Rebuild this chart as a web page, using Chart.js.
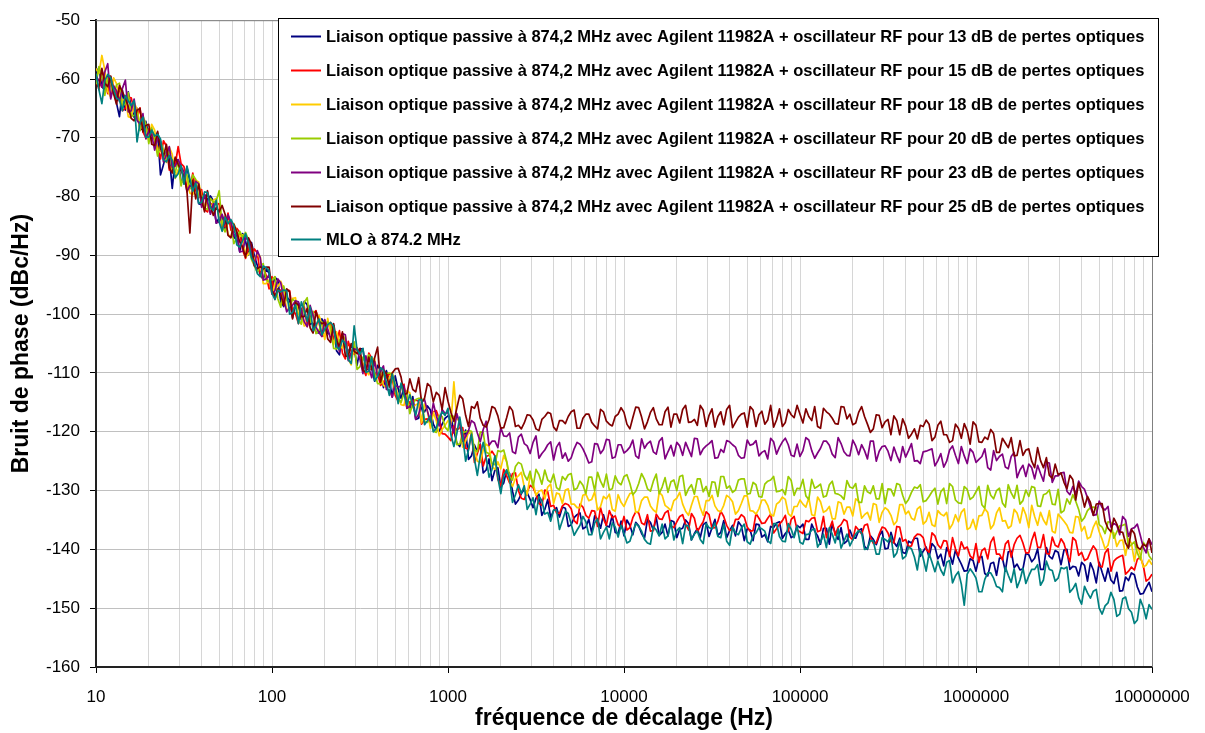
<!DOCTYPE html>
<html>
<head>
<meta charset="utf-8">
<script src="https://cdn.jsdelivr.net/npm/chart.js@4.4.0/dist/chart.umd.min.js"></script>
<style>
  html, body { margin: 0; padding: 0; background: #fff; }
  #wrap { width: 1205px; height: 733px; }
</style>
</head>
<body>
<div id="wrap"><canvas id="myChart"></canvas></div>
<script>
// offset frequencies (Hz), 30 points per decade
const freqs = [
  10, 10.8, 11.66, 12.59, 13.59, 14.68, 15.85, 17.11, 18.48, 19.95, 21.54, 23.26, 25.12, 27.12, 29.29, 31.62, 34.15, 36.87, 39.81, 42.99, 46.42, 50.12, 54.12, 58.43, 63.1, 68.13, 73.56, 79.43, 85.77, 92.61,
  100, 108, 116.6, 125.9, 135.9, 146.8, 158.5, 171.1, 184.8, 199.5, 215.4, 232.6, 251.2, 271.2, 292.9, 316.2, 341.5, 368.7, 398.1, 429.9, 464.2, 501.2, 541.2, 584.3, 631, 681.3, 735.6, 794.3, 857.7, 926.1,
  1000, 1080, 1166, 1259, 1359, 1468, 1585, 1711, 1848, 1995, 2154, 2326, 2512, 2712, 2929, 3162, 3415, 3687, 3981, 4299, 4642, 5012, 5412, 5843, 6310, 6813, 7356, 7943, 8577, 9261,
  10000, 10800, 11660, 12590, 13590, 14680, 15850, 17110, 18480, 19950, 21540, 23260, 25120, 27120, 29290, 31620, 34150, 36870, 39810, 42990, 46420, 50120, 54120, 58430, 63100, 68130, 73560, 79430, 85770, 92610,
  100000, 108000, 116600, 125900, 135900, 146800, 158500, 171100, 184800, 199500, 215400, 232600, 251200, 271200, 292900, 316200, 341500, 368700, 398100, 429900, 464200, 501200, 541200, 584300, 631000, 681300, 735600, 794300, 857700, 926100,
  1000000, 1080000, 1166000, 1259000, 1359000, 1468000, 1585000, 1711000, 1848000, 1995000, 2154000, 2326000, 2512000, 2712000, 2929000, 3162000, 3415000, 3687000, 3981000, 4299000, 4642000, 5012000, 5412000, 5843000, 6310000, 6813000, 7356000, 7943000, 8577000, 9261000,
  10000000
];
// in-between readings
const freqsMid = [
  10.39, 11.22, 12.12, 13.08, 14.13, 15.25, 16.47, 17.78, 19.2, 20.73, 22.39, 24.17, 26.1, 28.18, 30.43, 32.86, 35.48, 38.31, 41.37, 44.67, 48.23, 52.08, 56.23, 60.72, 65.57, 70.79, 76.44, 82.54, 89.13, 96.24,
  103.9, 112.2, 121.2, 130.8, 141.3, 152.5, 164.7, 177.8, 192, 207.3, 223.9, 241.7, 261, 281.8, 304.3, 328.6, 354.8, 383.1, 413.7, 446.7, 482.3, 520.8, 562.3, 607.2, 655.7, 707.9, 764.4, 825.4, 891.3, 962.4,
  1039, 1122, 1212, 1308, 1413, 1525, 1647, 1778, 1920, 2073, 2239, 2417, 2610, 2818, 3043, 3286, 3548, 3831, 4137, 4467, 4823, 5208, 5623, 6072, 6557, 7079, 7644, 8254, 8913, 9624,
  10390, 11220, 12120, 13080, 14130, 15250, 16470, 17780, 19200, 20730, 22390, 24170, 26100, 28180, 30430, 32860, 35480, 38310, 41370, 44670, 48230, 52080, 56230, 60720, 65570, 70790, 76440, 82540, 89130, 96240,
  103900, 112200, 121200, 130800, 141300, 152500, 164700, 177800, 192000, 207300, 223900, 241700, 261000, 281800, 304300, 328600, 354800, 383100, 413700, 446700, 482300, 520800, 562300, 607200, 655700, 707900, 764400, 825400, 891300, 962400,
  1039000, 1122000, 1212000, 1308000, 1413000, 1525000, 1647000, 1778000, 1920000, 2073000, 2239000, 2417000, 2610000, 2818000, 3043000, 3286000, 3548000, 3831000, 4137000, 4467000, 4823000, 5208000, 5623000, 6072000, 6557000, 7079000, 7644000, 8254000, 8913000, 9624000
];

// phase noise (dBc/Hz) at freqs
const liaison13 = [
  -58.9, -61.3, -59.5, -62.0, -66.4, -65.3, -64.7, -65.0, -68.5, -69.5, -69.4, -76.3, -72.3, -78.6, -73.8, -77.5, -77.5, -78.0, -81.4, -80.6, -80.7, -83.6, -85.4, -84.6, -86.5, -86.3, -89.9, -90.1, -93.3, -92.4,
  -95.7, -94.3, -98.7, -97.6, -98.0, -101.0, -98.4, -101.5, -103.2, -101.6, -103.3, -106.2, -103.4, -106.4, -105.9, -105.9, -109.4, -109.3, -108.7, -112.5, -111.2, -110.5, -114.3, -114.7, -114.0, -117.7, -116.6, -116.3, -119.7, -118.7,
  -117.3, -119.8, -122.5, -119.7, -124.1, -123.4, -127.0, -124.6, -126.5, -129.4, -126.5, -130.1, -131.6, -129.8, -131.5, -131.3, -134.2, -131.5, -133.4, -134.5, -133.0, -135.8, -134.1, -136.5, -134.9, -134.3, -136.4, -136.0, -134.2, -137.3,
  -137.7, -135.9, -135.4, -137.3, -134.9, -136.7, -137.6, -135.7, -135.1, -138.0, -136.4, -135.6, -137.3, -138.0, -135.4, -136.3, -137.6, -135.1, -136.8, -137.7, -136.0, -136.5, -138.5, -135.8, -137.5, -136.1, -135.5, -138.1, -136.7, -137.7,
  -136.3, -138.3, -135.7, -137.7, -136.4, -139.1, -137.2, -136.3, -138.6, -138.0, -136.8, -139.5, -137.7, -139.2, -136.9, -139.8, -138.8, -138.1, -140.7, -138.9, -138.1, -140.3, -141.3, -139.6, -140.8, -139.7, -142.5, -141.5, -143.7, -141.6,
  -143.7, -141.2, -144.5, -142.2, -141.5, -143.7, -140.3, -142.5, -143.3, -140.9, -141.5, -143.4, -139.7, -141.6, -140.5, -140.1, -143.4, -143.0, -142.2, -145.4, -143.5, -142.2, -145.4, -145.2, -143.9, -147.0, -145.3, -144.3, -147.6, -146.5,
  -147.2
];
const liaison13Mid = [
  -58.1, -61.9, -60.8, -64.1, -61.9, -62.2, -66.5, -68.6, -67.2, -70.2, -69.2, -74.6, -73.3, -73.6, -77.4, -75.0, -78.8, -81.2, -79.6, -79.9, -84.5, -83.3, -83.3, -87.1, -89.4, -87.6, -87.8, -91.7, -94.1, -93.0,
  -93.7, -97.9, -97.1, -100.6, -98.2, -97.8, -101.7, -103.1, -100.8, -103.3, -101.9, -106.9, -105.3, -105.3, -108.7, -105.9, -109.4, -111.4, -109.5, -109.6, -114.1, -112.7, -112.4, -116.0, -117.9, -115.8, -115.6, -118.7, -119.9, -117.7,
  -117.6, -121.9, -121.0, -124.7, -122.2, -122.1, -126.5, -128.3, -126.1, -128.7, -127.1, -132.3, -130.5, -130.4, -132.9, -130.6, -133.2, -134.6, -132.9, -132.8, -136.1, -134.6, -133.8, -136.2, -137.2, -134.9, -134.1, -136.2, -137.1, -135.2,
  -135.0, -137.5, -136.0, -138.1, -135.4, -134.6, -137.1, -137.7, -135.3, -136.6, -135.0, -138.4, -136.5, -135.8, -137.8, -134.9, -137.1, -138.0, -135.9, -135.3, -138.5, -136.7, -135.7, -137.9, -138.7, -136.3, -135.3, -137.3, -138.0, -135.9,
  -135.7, -138.3, -136.9, -139.1, -136.4, -135.7, -138.3, -139.0, -136.7, -138.1, -136.5, -140.0, -138.3, -137.7, -139.9, -137.1, -139.5, -140.5, -138.6, -138.1, -141.2, -139.6, -139.0, -141.6, -142.8, -140.8, -140.1, -142.5, -143.6, -141.9,
  -141.4, -144.1, -142.4, -144.4, -141.5, -140.4, -143.1, -143.5, -140.7, -142.1, -139.9, -143.4, -141.2, -140.2, -142.6, -140.0, -142.9, -144.5, -142.7, -142.3, -145.7, -143.9, -143.2, -145.8, -147.1, -144.7, -144.0, -146.4, -147.5, -145.6
];
const liaison15 = [
  -60.1, -58.6, -62.5, -61.2, -61.4, -65.0, -63.2, -66.6, -69.0, -68.5, -70.4, -73.6, -71.4, -74.5, -71.5, -74.9, -78.6, -78.9, -78.8, -82.6, -81.5, -81.2, -85.0, -85.7, -85.4, -89.1, -88.6, -88.9, -93.2, -93.4,
  -93.6, -95.9, -98.3, -96.0, -99.9, -99.2, -102.1, -99.9, -101.4, -103.7, -101.4, -104.7, -106.6, -104.6, -106.8, -106.8, -110.4, -107.5, -110.0, -111.6, -110.1, -113.8, -112.5, -116.0, -114.7, -114.8, -117.9, -118.4, -116.4, -120.3,
  -120.9, -119.0, -119.3, -122.8, -120.1, -123.7, -125.8, -124.0, -124.1, -129.2, -127.5, -127.1, -130.0, -131.5, -129.1, -130.6, -132.5, -130.2, -132.5, -133.9, -132.2, -133.1, -135.6, -132.8, -134.7, -133.5, -132.9, -135.9, -134.6, -135.8,
  -134.4, -136.3, -133.6, -135.5, -134.1, -136.8, -134.8, -133.8, -136.0, -135.3, -134.1, -136.7, -134.7, -136.1, -133.6, -136.4, -135.2, -134.4, -136.8, -134.9, -134.1, -136.2, -136.8, -134.7, -135.5, -134.0, -136.5, -135.1, -136.9, -134.4,
  -137.0, -135.1, -134.7, -137.0, -134.4, -136.6, -137.6, -135.8, -135.2, -138.4, -136.7, -135.9, -137.9, -138.9, -136.2, -137.2, -138.9, -136.2, -138.3, -139.4, -137.4, -138.0, -140.5, -137.7, -139.8, -138.6, -138.0, -141.1, -139.9, -141.1,
  -139.0, -140.2, -141.6, -137.9, -140.8, -139.1, -141.3, -138.1, -138.9, -140.6, -137.1, -139.7, -140.7, -137.9, -139.6, -139.0, -142.1, -138.5, -140.5, -141.6, -139.4, -142.8, -140.6, -143.7, -141.5, -141.0, -143.7, -143.5, -141.3, -145.4,
  -144.2
];
const liaison15Mid = [
  -61.8, -60.0, -59.6, -62.9, -65.4, -63.1, -65.3, -64.9, -70.0, -69.0, -71.6, -70.5, -75.5, -74.7, -74.4, -78.3, -76.0, -80.2, -82.2, -81.1, -81.3, -85.4, -82.8, -86.1, -86.1, -90.5, -90.1, -89.6, -92.0, -95.7,
  -97.5, -95.9, -95.9, -99.4, -101.6, -98.7, -100.5, -99.4, -103.7, -102.1, -104.3, -102.8, -107.6, -106.3, -105.7, -109.2, -106.6, -110.4, -112.1, -110.8, -110.9, -114.8, -111.9, -114.9, -114.6, -118.7, -117.8, -116.6, -117.8, -120.4,
  -121.5, -119.7, -119.3, -122.9, -125.2, -122.2, -124.2, -123.3, -128.1, -126.4, -128.7, -127.0, -131.3, -130.2, -129.5, -132.2, -129.9, -132.7, -133.8, -132.6, -132.4, -135.1, -132.3, -134.2, -133.4, -136.1, -134.8, -133.4, -134.3, -136.3,
  -136.7, -134.6, -133.8, -135.8, -136.9, -134.0, -134.9, -133.4, -136.3, -134.4, -135.7, -133.9, -137.0, -135.3, -134.1, -136.3, -133.5, -135.9, -136.6, -134.9, -134.5, -136.9, -133.9, -135.6, -134.7, -137.2, -135.7, -134.2, -134.9, -136.7,
  -137.3, -135.3, -134.6, -136.8, -138.0, -135.2, -136.2, -134.9, -137.9, -136.1, -137.4, -135.7, -139.0, -137.4, -136.4, -138.7, -136.1, -138.6, -139.5, -137.9, -137.5, -140.0, -137.2, -139.2, -138.5, -141.2, -139.9, -138.7, -139.6, -141.6,
  -142.2, -139.8, -138.8, -140.8, -141.8, -138.5, -139.2, -137.6, -140.6, -138.5, -139.6, -137.5, -140.8, -139.3, -138.2, -140.8, -138.0, -141.0, -141.9, -140.4, -140.1, -143.0, -139.9, -142.0, -141.2, -144.2, -143.0, -141.7, -142.7, -145.0
];
const liaison18 = [
  -58.2, -56.0, -62.1, -59.8, -63.2, -63.3, -66.6, -65.1, -67.3, -70.4, -68.7, -72.3, -74.2, -72.8, -75.4, -75.8, -79.4, -77.2, -80.0, -81.7, -80.6, -84.2, -83.4, -86.9, -86.0, -86.5, -89.8, -90.9, -90.2, -94.8,
  -96.6, -95.3, -95.8, -99.0, -97.2, -100.1, -101.8, -100.3, -100.2, -104.3, -103.1, -103.0, -105.8, -107.6, -105.3, -107.2, -109.6, -107.4, -110.3, -112.1, -110.7, -112.0, -115.4, -113.0, -115.9, -115.2, -115.3, -119.4, -118.1, -119.6,
  -118.1, -111.5, -118.2, -121.6, -120.4, -125.0, -123.1, -122.5, -126.4, -126.3, -125.1, -129.3, -127.5, -129.4, -127.4, -130.8, -129.9, -129.4, -132.2, -130.6, -129.9, -132.3, -132.9, -130.8, -131.7, -130.2, -132.7, -131.4, -133.2, -130.7,
  -132.7, -130.5, -133.7, -131.7, -131.1, -133.3, -130.3, -132.5, -133.4, -131.3, -132.3, -134.2, -131.0, -132.9, -131.7, -130.8, -133.4, -132.5, -131.2, -134.0, -132.2, -130.9, -133.5, -133.1, -131.6, -134.1, -132.3, -131.1, -133.9, -132.7,
  -131.6, -132.8, -134.1, -131.1, -133.7, -132.7, -134.8, -132.1, -132.8, -134.3, -131.8, -134.1, -135.0, -132.4, -133.7, -133.3, -135.8, -132.4, -134.0, -134.7, -133.1, -135.7, -133.7, -136.1, -134.0, -133.7, -135.7, -135.3, -133.1, -136.3,
  -136.6, -134.2, -133.7, -135.8, -132.9, -135.1, -136.0, -133.8, -132.9, -136.3, -134.4, -133.7, -135.8, -136.9, -134.0, -135.2, -137.1, -134.4, -136.9, -138.2, -136.2, -137.0, -139.9, -137.1, -139.5, -138.4, -138.2, -142.0, -140.9, -142.7,
  -142.6
];
const liaison18Mid = [
  -59.1, -58.5, -63.1, -60.8, -63.7, -66.4, -64.0, -68.0, -68.1, -67.7, -72.5, -72.5, -71.6, -76.9, -75.0, -77.4, -79.7, -77.5, -79.9, -82.7, -80.3, -84.5, -86.4, -84.6, -86.8, -90.3, -88.7, -89.8, -94.8, -94.2,
  -94.8, -94.4, -99.3, -97.3, -100.0, -102.0, -99.1, -102.5, -101.7, -100.7, -105.2, -104.8, -103.7, -108.6, -106.3, -108.3, -110.3, -107.7, -109.8, -112.5, -109.9, -113.9, -115.5, -113.4, -115.4, -118.5, -116.5, -116.7, -120.7, -118.9,
  -118.6, -117.8, -122.6, -120.1, -122.9, -125.2, -122.1, -125.9, -125.1, -124.0, -128.4, -127.9, -126.9, -130.7, -128.7, -130.1, -131.4, -128.9, -130.4, -132.2, -129.7, -132.3, -132.9, -130.6, -131.5, -133.3, -131.0, -130.6, -133.5, -132.0,
  -131.5, -130.4, -133.5, -131.1, -132.6, -133.7, -130.8, -132.9, -131.7, -130.3, -133.5, -132.5, -131.0, -134.2, -131.7, -132.6, -133.6, -130.8, -131.9, -133.4, -130.9, -133.4, -134.0, -131.6, -132.5, -134.3, -131.9, -131.5, -134.4, -132.7,
  -132.3, -131.2, -134.3, -131.9, -133.4, -134.8, -131.9, -134.0, -132.8, -131.4, -134.7, -133.7, -132.2, -135.4, -132.9, -134.2, -135.2, -132.4, -133.5, -135.0, -132.7, -135.2, -135.8, -133.4, -134.3, -136.5, -134.1, -133.7, -136.6, -134.9,
  -134.3, -133.1, -136.5, -133.8, -135.2, -136.4, -133.2, -135.5, -134.1, -132.5, -135.9, -135.0, -133.4, -137.2, -134.6, -135.9, -137.2, -134.5, -136.1, -137.9, -135.2, -138.3, -139.3, -137.2, -138.5, -141.0, -139.0, -139.3, -143.0, -141.8
];
const liaison20 = [
  -60.9, -59.6, -59.8, -62.6, -60.7, -64.2, -66.3, -65.5, -66.3, -71.0, -70.3, -70.7, -73.5, -75.6, -74.0, -76.1, -78.7, -77.1, -80.2, -82.2, -81.0, -79.0, -86.0, -84.1, -87.1, -86.9, -87.4, -91.8, -91.8, -94.2,
  -94.2, -97.4, -95.2, -98.5, -97.8, -101.7, -97.2, -99.5, -102.8, -102.8, -102.0, -105.9, -104.3, -106.8, -104.7, -108.9, -108.3, -108.2, -111.8, -110.3, -110.0, -113.3, -115.0, -113.4, -115.2, -114.3, -118.2, -117.5, -120.1, -117.4,
  -119.8, -117.4, -122.1, -120.0, -119.9, -123.4, -120.1, -123.7, -125.6, -123.4, -125.0, -128.2, -125.2, -127.3, -126.7, -126.4, -128.9, -128.2, -127.2, -129.9, -128.2, -127.1, -129.6, -129.1, -127.7, -130.0, -128.4, -127.2, -129.7, -128.6,
  -127.6, -128.8, -130.1, -127.1, -129.7, -128.4, -130.5, -127.8, -128.5, -130.0, -127.4, -129.7, -130.6, -128.0, -129.3, -128.5, -131.0, -127.6, -129.2, -129.9, -128.0, -130.6, -128.6, -131.0, -128.9, -128.2, -130.2, -129.8, -127.6, -130.8,
  -129.7, -130.9, -128.1, -129.3, -131.1, -129.0, -130.5, -130.9, -128.3, -129.6, -132.0, -129.2, -130.5, -131.4, -128.8, -129.7, -130.9, -129.0, -132.2, -130.3, -129.6, -131.9, -131.0, -129.6, -130.2, -132.2, -129.3, -132.1, -129.3, -131.5,
  -130.2, -132.4, -129.1, -131.4, -129.6, -132.8, -130.4, -129.1, -131.7, -131.0, -129.5, -132.7, -130.5, -132.3, -129.8, -133.4, -132.3, -131.8, -135.2, -133.4, -132.8, -135.8, -137.3, -135.4, -137.0, -135.9, -139.6, -138.7, -141.7, -139.5,
  -141.8
];
const liaison20Mid = [
  -57.9, -62.8, -61.1, -61.0, -64.6, -62.3, -66.2, -68.8, -67.6, -68.3, -73.1, -72.0, -71.9, -75.9, -78.2, -76.3, -76.3, -79.9, -81.9, -80.3, -80.7, -85.0, -84.3, -88.0, -85.9, -86.1, -90.7, -92.9, -91.4, -94.5,
  -93.6, -98.8, -97.4, -97.5, -100.9, -98.0, -101.4, -103.3, -101.3, -101.3, -105.8, -104.3, -104.0, -107.5, -109.4, -107.3, -106.9, -110.1, -111.8, -110.1, -110.3, -114.3, -113.4, -116.9, -114.5, -114.3, -118.4, -119.9, -117.2, -119.2,
  -117.2, -122.2, -120.1, -119.8, -123.1, -120.0, -123.5, -125.4, -123.2, -123.1, -127.6, -125.9, -125.5, -128.2, -129.4, -127.3, -126.5, -128.6, -129.5, -127.6, -127.3, -129.9, -128.4, -130.5, -127.7, -126.9, -129.4, -129.9, -127.5, -129.0,
  -127.3, -130.7, -128.8, -128.1, -130.1, -127.2, -129.4, -130.3, -128.2, -127.6, -130.8, -129.0, -128.0, -130.2, -131.0, -128.6, -127.6, -129.6, -130.3, -128.2, -128.0, -130.5, -129.0, -131.1, -128.4, -127.6, -130.1, -130.7, -128.3, -129.6,
  -128.1, -131.5, -129.6, -128.9, -130.9, -128.4, -130.6, -131.5, -129.4, -128.8, -132.0, -130.2, -129.2, -131.4, -132.2, -129.8, -128.8, -130.8, -131.5, -129.4, -129.0, -131.7, -130.2, -132.3, -129.6, -128.8, -131.6, -132.2, -129.8, -131.1,
  -129.3, -133.0, -130.8, -130.0, -132.1, -129.0, -131.3, -132.3, -129.9, -129.3, -132.6, -130.7, -129.9, -132.4, -133.8, -131.4, -130.7, -133.2, -134.6, -132.9, -132.9, -136.2, -135.3, -138.1, -136.0, -135.7, -139.2, -140.6, -138.8, -141.1
];
const liaison23 = [
  -59.5, -61.4, -57.4, -61.2, -63.8, -60.2, -65.4, -67.0, -65.9, -68.8, -72.1, -70.6, -72.9, -75.0, -73.7, -75.8, -78.1, -77.4, -81.8, -80.9, -81.2, -84.3, -84.6, -84.3, -86.1, -89.3, -87.4, -91.7, -90.4, -94.0,
  -96.6, -94.0, -97.4, -98.9, -97.7, -99.2, -102.1, -100.2, -103.1, -100.9, -104.2, -104.2, -103.3, -107.9, -105.9, -107.7, -107.1, -110.8, -110.5, -108.8, -112.9, -112.1, -112.2, -116.0, -114.7, -117.0, -114.5, -118.3, -117.2, -116.2,
  -116.7, -120.2, -118.6, -120.8, -118.1, -120.2, -119.6, -122.3, -121.6, -119.3, -120.8, -123.4, -120.9, -122.0, -123.7, -120.7, -123.7, -122.2, -124.8, -121.8, -123.6, -124.4, -121.8, -122.9, -125.3, -122.0, -123.7, -121.3, -124.5, -122.2,
  -123.6, -122.6, -124.1, -121.2, -122.0, -123.4, -121.6, -124.6, -122.3, -121.8, -124.0, -123.0, -121.1, -123.9, -122.4, -121.5, -124.4, -123.5, -121.7, -122.6, -124.5, -121.4, -122.1, -124.1, -123.2, -121.1, -123.8, -121.7, -122.2, -124.2,
  -124.2, -121.0, -123.2, -123.6, -121.6, -122.3, -124.4, -122.0, -124.0, -121.4, -123.9, -123.2, -121.6, -125.0, -122.5, -123.3, -122.6, -125.2, -124.3, -122.0, -124.9, -123.4, -123.1, -125.8, -123.7, -125.0, -122.4, -125.4, -124.1, -122.9,
  -125.2, -124.2, -126.1, -123.2, -124.2, -126.0, -124.2, -127.8, -125.7, -125.5, -128.0, -127.1, -125.2, -128.6, -127.5, -126.9, -130.7, -130.6, -129.3, -131.2, -134.2, -131.8, -133.3, -136.2, -135.9, -134.4, -137.8, -136.3, -137.6, -140.6,
  -139.2
];
const liaison23Mid = [
  -60.3, -58.8, -63.4, -62.0, -61.6, -65.6, -63.4, -67.7, -70.2, -69.5, -70.0, -74.1, -71.5, -74.8, -74.9, -79.2, -78.5, -77.8, -79.8, -83.0, -84.5, -83.0, -83.1, -86.8, -89.4, -87.0, -89.5, -89.2, -94.2, -93.3,
  -96.0, -94.7, -99.6, -98.5, -97.9, -101.3, -98.5, -102.2, -103.8, -102.5, -102.6, -106.4, -103.5, -106.5, -106.1, -110.1, -109.1, -108.0, -109.7, -112.8, -114.1, -112.4, -112.2, -115.7, -117.9, -115.0, -116.5, -115.1, -119.0, -116.9,
  -118.8, -116.9, -121.6, -119.8, -118.5, -121.7, -118.2, -121.6, -122.7, -120.7, -120.2, -123.7, -120.4, -122.4, -121.8, -124.5, -123.1, -121.7, -122.6, -124.5, -125.0, -122.9, -122.1, -124.0, -125.1, -122.1, -123.0, -121.4, -124.3, -122.2,
  -123.2, -121.4, -124.5, -122.8, -121.6, -123.8, -121.0, -123.4, -124.1, -122.4, -121.8, -124.2, -121.2, -122.9, -122.0, -124.5, -123.0, -121.5, -122.2, -124.0, -124.4, -122.3, -121.5, -123.5, -124.6, -121.7, -122.6, -121.1, -124.0, -122.1,
  -123.2, -121.4, -124.5, -122.8, -121.6, -123.8, -121.0, -123.4, -124.1, -122.4, -122.2, -124.6, -121.6, -123.3, -122.4, -124.9, -124.0, -122.5, -123.2, -125.0, -125.4, -123.3, -122.9, -124.9, -126.0, -123.1, -124.0, -122.5, -125.4, -123.5,
  -124.7, -122.9, -126.5, -124.9, -123.8, -126.3, -123.5, -126.5, -127.6, -126.1, -125.7, -128.4, -125.3, -127.5, -127.0, -130.1, -129.3, -128.4, -129.8, -132.8, -134.1, -132.9, -132.7, -135.6, -137.5, -135.0, -136.5, -135.7, -139.6, -138.2
];
const liaison25 = [
  -61.1, -58.2, -61.3, -62.5, -61.1, -63.3, -66.7, -65.3, -69.0, -67.7, -71.3, -71.8, -71.1, -76.0, -74.5, -76.6, -86.2, -80.4, -80.5, -79.0, -83.2, -82.6, -83.0, -87.0, -86.0, -88.6, -87.0, -91.8, -91.9, -92.0,
  -96.0, -95.7, -98.5, -96.2, -98.0, -100.4, -99.0, -103.2, -101.2, -101.4, -104.8, -104.5, -103.0, -107.2, -106.3, -105.8, -109.8, -109.4, -105.6, -109.5, -112.4, -109.3, -110.7, -113.5, -112.8, -110.8, -114.3, -112.3, -113.3, -116.2,
  -114.8, -118.2, -113.8, -117.2, -115.7, -114.9, -118.9, -117.9, -116.0, -119.4, -117.6, -116.4, -118.9, -118.5, -117.2, -119.5, -117.9, -116.7, -119.2, -118.1, -118.6, -116.6, -119.4, -117.7, -117.0, -119.0, -116.2, -118.2, -119.0, -117.0,
  -116.7, -119.5, -115.8, -117.5, -118.3, -115.9, -118.8, -116.6, -119.2, -117.0, -116.2, -118.4, -117.9, -115.5, -119.1, -116.1, -117.4, -118.8, -115.5, -118.4, -117.0, -119.2, -116.3, -117.1, -118.7, -115.5, -118.0, -119.1, -116.2, -117.6,
  -117.0, -116.1, -118.1, -119.1, -116.0, -117.0, -118.6, -115.7, -117.8, -118.8, -116.7, -117.4, -120.1, -117.1, -119.3, -117.9, -117.3, -120.5, -119.0, -120.4, -121.2, -119.1, -118.7, -120.9, -118.2, -120.5, -121.5, -119.4, -118.6, -122.1,
  -118.9, -121.8, -121.3, -120.3, -123.5, -121.9, -121.0, -124.0, -124.0, -122.9, -126.1, -124.9, -124.4, -127.9, -127.3, -128.6, -127.4, -131.6, -130.6, -131.0, -134.2, -132.2, -135.2, -137.0, -135.7, -137.1, -139.8, -137.3, -140.0, -139.5,
  -140.6
];
const liaison25Mid = [
  -61.2, -60.7, -59.5, -64.3, -62.2, -64.7, -67.1, -65.0, -67.9, -71.1, -68.9, -73.2, -75.1, -73.3, -75.6, -79.0, -77.2, -77.9, -82.6, -81.5, -81.8, -81.5, -86.6, -84.7, -87.7, -90.3, -88.1, -92.3, -92.3, -92.0,
  -96.9, -96.7, -95.7, -100.8, -98.5, -100.4, -102.3, -99.5, -101.6, -104.2, -101.6, -105.5, -107.1, -105.0, -106.7, -109.6, -107.3, -107.4, -111.6, -110.1, -110.0, -109.2, -113.6, -111.0, -113.2, -115.0, -111.8, -114.9, -113.8, -112.5,
  -116.7, -116.0, -114.4, -119.1, -116.0, -117.7, -119.2, -115.7, -117.3, -119.3, -115.7, -119.1, -119.5, -117.1, -118.0, -119.8, -117.4, -116.9, -119.8, -118.1, -117.4, -116.3, -119.4, -117.0, -118.4, -119.5, -116.6, -118.7, -117.4, -115.9,
  -118.7, -117.6, -115.9, -119.5, -116.7, -117.8, -118.8, -115.8, -117.0, -118.5, -115.5, -118.3, -118.9, -116.3, -117.2, -119.2, -116.6, -116.2, -119.3, -117.5, -116.8, -115.7, -119.1, -116.5, -118.0, -119.2, -116.1, -118.4, -117.1, -115.5,
  -118.5, -117.4, -115.7, -119.4, -116.6, -117.7, -118.7, -115.8, -117.0, -118.5, -115.7, -118.7, -119.5, -117.2, -118.3, -120.5, -118.1, -117.8, -121.1, -119.5, -118.9, -118.0, -121.5, -118.9, -120.5, -121.8, -118.7, -121.1, -119.8, -118.3,
  -121.7, -120.9, -119.6, -123.5, -121.1, -122.7, -124.1, -121.5, -123.1, -125.0, -122.7, -126.1, -127.4, -125.5, -127.0, -129.7, -128.1, -128.7, -132.8, -132.0, -132.3, -132.2, -136.4, -134.7, -137.0, -138.9, -136.6, -139.6, -139.1, -138.2
];
const mlo = [
  -59.1, -64.2, -59.2, -61.8, -63.6, -62.8, -64.5, -70.7, -66.5, -69.9, -69.7, -70.2, -74.1, -73.8, -76.1, -77.9, -77.0, -77.7, -81.0, -79.3, -82.4, -84.3, -83.5, -83.9, -88.2, -87.5, -87.9, -91.2, -93.6, -92.1,
  -96.4, -95.9, -95.9, -100.0, -98.4, -97.9, -101.2, -102.8, -100.8, -102.5, -101.4, -105.5, -104.4, -107.7, -102.0, -106.8, -109.9, -107.2, -110.6, -109.5, -113.8, -112.1, -111.7, -115.4, -115.5, -114.6, -118.8, -117.3, -119.4, -116.6,
  -116.0, -122.5, -117.5, -125.0, -120.4, -127.4, -121.8, -127.7, -124.1, -130.5, -126.5, -132.0, -129.0, -129.2, -132.3, -134.1, -131.7, -133.7, -133.3, -136.6, -133.5, -135.7, -136.7, -134.4, -137.5, -135.5, -138.2, -136.2, -135.5, -137.9,
  -137.3, -138.6, -135.6, -136.9, -138.9, -136.1, -137.7, -138.2, -135.3, -136.8, -139.0, -136.0, -137.4, -138.3, -135.6, -136.5, -137.8, -135.7, -139.3, -137.2, -136.4, -138.7, -137.7, -136.3, -136.9, -139.0, -135.6, -138.6, -135.6, -138.0,
  -138.8, -137.5, -136.7, -139.6, -137.4, -136.3, -138.9, -139.8, -137.4, -138.4, -136.8, -140.0, -138.5, -140.8, -138.0, -138.7, -141.3, -138.5, -141.2, -139.9, -143.5, -141.5, -140.7, -143.8, -143.5, -142.2, -145.7, -143.8, -149.5, -143.3,
  -144.9, -147.2, -144.0, -144.9, -146.5, -143.0, -145.6, -146.5, -143.2, -144.5, -143.4, -146.1, -142.0, -143.6, -144.9, -143.3, -147.3, -145.8, -149.3, -147.4, -147.1, -150.0, -149.6, -147.3, -151.4, -148.4, -150.1, -152.6, -148.5, -151.8,
  -150.2
];
const mloMid = [
  -61.8, -60.3, -59.8, -63.2, -65.4, -63.7, -63.7, -67.4, -69.9, -68.7, -69.4, -73.7, -73.0, -76.8, -74.7, -74.8, -79.1, -81.1, -79.2, -81.8, -80.6, -85.9, -84.6, -84.9, -88.6, -86.3, -90.4, -93.1, -91.8, -92.6,
  -97.5, -96.2, -96.0, -99.7, -101.6, -99.3, -98.8, -101.9, -103.5, -101.8, -102.0, -106.0, -105.0, -108.4, -106.0, -105.8, -109.7, -111.3, -109.1, -111.6, -110.2, -115.2, -113.7, -113.7, -117.2, -114.5, -118.1, -120.0, -117.7, -117.2,
  -120.5, -120.3, -120.7, -123.1, -124.6, -124.0, -124.3, -126.4, -127.8, -127.4, -128.0, -130.7, -130.5, -133.2, -131.2, -131.0, -134.0, -135.2, -133.3, -135.1, -133.9, -137.6, -135.9, -135.3, -137.5, -134.8, -137.1, -138.2, -136.2, -135.9,
  -138.9, -137.1, -136.1, -138.3, -139.1, -136.7, -135.7, -137.7, -138.4, -136.3, -135.9, -138.4, -136.9, -139.0, -136.3, -135.5, -138.0, -138.6, -136.2, -137.5, -135.7, -139.1, -137.2, -136.5, -138.5, -135.6, -137.8, -138.7, -136.6, -136.0,
  -139.1, -137.4, -136.5, -138.8, -139.7, -137.4, -136.5, -138.6, -139.4, -137.4, -137.2, -139.9, -138.6, -140.8, -138.3, -137.7, -140.6, -141.6, -139.6, -141.3, -139.9, -143.7, -142.2, -142.0, -144.4, -141.9, -144.5, -145.9, -144.2, -144.0,
  -147.2, -145.1, -144.0, -146.3, -147.2, -144.4, -143.3, -145.2, -145.8, -143.4, -142.6, -145.2, -143.4, -145.4, -143.1, -143.0, -146.7, -148.2, -146.3, -148.3, -146.8, -151.0, -149.1, -148.5, -151.0, -148.1, -150.7, -152.0, -149.8, -149.4
];

const seriesLabels = [
  "Liaison optique passive à 874,2 MHz avec Agilent 11982A + oscillateur RF pour 13 dB de pertes optiques",
  "Liaison optique passive à 874,2 MHz avec Agilent 11982A + oscillateur RF pour 15 dB de pertes optiques",
  "Liaison optique passive à 874,2 MHz avec Agilent 11982A + oscillateur RF pour 18 dB de pertes optiques",
  "Liaison optique passive à 874,2 MHz avec Agilent 11982A + oscillateur RF pour 20 dB de pertes optiques",
  "Liaison optique passive à 874,2 MHz avec Agilent 11982A + oscillateur RF pour 23 dB de pertes optiques",
  "Liaison optique passive à 874,2 MHz avec Agilent 11982A + oscillateur RF pour 25 dB de pertes optiques",
  "MLO à 874.2 MHz"
];
const seriesValues = [liaison13, liaison15, liaison18, liaison20, liaison23, liaison25, mlo];
const seriesMidValues = [liaison13Mid, liaison15Mid, liaison18Mid, liaison20Mid, liaison23Mid, liaison25Mid, mloMid];
const seriesColors = ["#000080", "#FF0000", "#FFCC00", "#99CC00", "#800080", "#800000", "#008080"];

const xDecades = [10, 100, 1000, 10000, 100000, 1000000, 10000000];
const yMin = -160, yMax = -50, yStep = 10;

const FONT = 'Arial, "Liberation Sans", sans-serif';
Chart.defaults.font.family = FONT;
Chart.defaults.color = "#000";

function buildPoints(vals, midVals) {
  const pts = freqs.map((f, j) => ({ x: f, y: vals[j] }))
    .concat(freqsMid.map((f, j) => ({ x: f, y: midVals[j] })));
  return pts.sort((a, b) => a.x - b.x);
}

// frame on top / right and the boxed legend inside the plot
const frameAndLegend = {
  id: "frameAndLegend",
  afterDraw(chart) {
    const ctx = chart.ctx;
    const a = chart.chartArea;
    ctx.save();
    ctx.strokeStyle = "#808080";
    ctx.lineWidth = 1;
    ctx.beginPath();
    ctx.moveTo(a.left, a.top + 0.5);
    ctx.lineTo(a.right + 0.5, a.top + 0.5);
    ctx.lineTo(a.right + 0.5, a.bottom);
    ctx.stroke();

    const bx = 278, by = 18, bw = 880, bh = 238;
    ctx.fillStyle = "#fff";
    ctx.fillRect(bx, by, bw, bh);
    ctx.strokeStyle = "#000";
    ctx.strokeRect(bx + 0.5, by + 0.5, bw, bh);
    ctx.font = "bold 16.5px " + FONT;
    ctx.textBaseline = "middle";
    ctx.textAlign = "left";
    chart.data.datasets.forEach((ds, i) => {
      const y = Math.round(36 + i * 33.9) + 0.5;
      ctx.strokeStyle = ds.borderColor;
      ctx.lineWidth = 2;
      ctx.beginPath();
      ctx.moveTo(291, y);
      ctx.lineTo(321, y);
      ctx.stroke();
      ctx.fillStyle = "#000";
      ctx.fillText(ds.label, 326, y + 1);
    });
    ctx.restore();
  }
};

const ctx = document.getElementById("myChart");

new Chart(ctx, {
  type: "line",
  data: {
    datasets: seriesValues.map((vals, i) => ({
      label: seriesLabels[i],
      data: buildPoints(vals, seriesMidValues[i]),
      borderColor: seriesColors[i],
      backgroundColor: seriesColors[i],
      borderWidth: 1.7,
      borderJoinStyle: "round",
      pointRadius: 0,
      tension: 0,
      fill: false,
      order: seriesValues.length - 1 - i
    }))
  },
  options: {
    responsive: true,
    maintainAspectRatio: false,
    devicePixelRatio: 1,
    animation: false,
    layout: { padding: { top: 18, right: 53, bottom: 0, left: 0 } },
    plugins: {
      legend: { display: false },
      tooltip: { enabled: false }
    },
    scales: {
      x: {
        type: "logarithmic",
        min: 10,
        max: 10000000,
        afterBuildTicks: (axis) => {
          const t = [];
          xDecades.forEach((d, i) => {
            t.push({ value: d });
            if (i < xDecades.length - 1) {
              for (let m = 2; m <= 9; m++) t.push({ value: d * m });
            }
          });
          axis.ticks = t;
        },
        afterFit: (axis) => { axis.height = 66; },
        ticks: {
          autoSkip: false,
          maxRotation: 0,
          padding: 14,
          font: { size: 17 },
          color: "#000",
          callback: (v) => (xDecades.includes(v) ? String(v) : "")
        },
        grid: {
          color: "#d6d6d6",
          lineWidth: 1,
          tickLength: 6,
          tickColor: (c) => (c.tick && xDecades.includes(c.tick.value) ? "#000" : "rgba(0,0,0,0)")
        },
        border: { color: "#222", width: 2 },
        title: {
          display: true,
          text: "fréquence de décalage (Hz)",
          font: { size: 23, weight: "bold" },
          color: "#000",
          padding: { top: 0, bottom: 1 }
        }
      },
      y: {
        type: "linear",
        min: yMin,
        max: yMax,
        afterFit: (axis) => { axis.width = 96; },
        ticks: {
          stepSize: yStep,
          padding: 10,
          font: { size: 17 },
          color: "#000",
          callback: (v) => String(v)
        },
        grid: {
          color: "#c0c0c0",
          lineWidth: 1,
          tickLength: 6,
          tickColor: "#000"
        },
        border: { color: "#222", width: 2 },
        title: {
          display: true,
          text: "Bruit de phase (dBc/Hz)",
          font: { size: 23, weight: "bold" },
          color: "#000",
          padding: { top: 8, bottom: 0 }
        }
      }
    }
  },
  plugins: [frameAndLegend]
});
</script>
</body>
</html>
